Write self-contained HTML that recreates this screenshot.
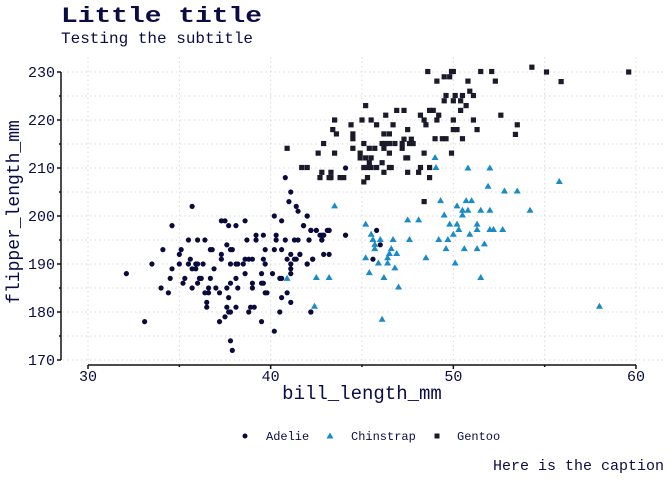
<!DOCTYPE html>
<html><head><meta charset="utf-8"><style>
body{margin:0;background:#fff;}
svg{display:block;font-family:"Liberation Mono",monospace;}
</style></head><body>
<svg id="chart" width="672" height="480" viewBox="0 0 672 480" xmlns="http://www.w3.org/2000/svg">
<text x="61" y="22" font-size="22" font-weight="bold" fill="#0b0b45" textLength="201" lengthAdjust="spacingAndGlyphs">Little title</text>
<text x="61" y="43" font-size="16" fill="#0b0b45">Testing the subtitle</text>
<g id="grid"></g>
<g id="axes"></g>
<g id="marks"></g>
<text x="362" y="399" font-size="19" text-anchor="middle" fill="#0b0b45">bill_length_mm</text>
<text transform="translate(19,212) rotate(-90)" font-size="18" text-anchor="middle" fill="#0b0b45">flipper_length_mm</text>
<g font-size="12" fill="#0b0b45">
<g><circle cx="245" cy="436" r="2.5" fill="#0a0a3c"/><text x="266" y="440">Adelie</text></g>
<g><polygon points="330,432.5 333.5,438.5 326.5,438.5" fill="#1a8bc7"/><text x="351" y="440">Chinstrap</text></g>
<g><rect x="434.5" y="433.5" width="5" height="5" fill="#1a1a2a"/><text x="457" y="440">Gentoo</text></g>
</g>
<text x="664" y="470" font-size="15" text-anchor="end" fill="#0b0b45">Here is the caption</text>
</svg>
<script>
const xTicks=[30,40,50,60];
const xMinor=[35,45,55];
const yTicks=[170,180,190,200,210,220,230];
const yMinor=[175,185,195,205,215,225];
const adelieX=[41.1,41.0,41.4,41.5,35.7,40.2,40.6,42.0,41.8,42.2,42.5,42.8,42.9,43.1,43.2,42.8,44.1,34.6,37.3,37.5,37.7,38.1,38.6,35.5,36.0,36.4,34.1,35.1,35.0,33.5,34.6,35.0,35.6,35.5,35.7,35.9,36.0,35.9,36.3,36.7,36.8,37.6,37.3,37.3,37.8,37.9,37.8,38.1,38.2,38.5,38.6,38.8,39.0,38.7,39.2,39.2,39.6,39.7,39.6,39.7,40.3,40.3,40.8,41.3,41.5,42.1,40.2,40.6,41.1,41.6,40.9,41.3,41.4,41.1,41.1,41.1,42.3,42.0,42.9,32.1,36.9,34.5,35.3,35.2,36.0,36.1,36.2,36.7,34.0,34.4,35.7,36.6,36.4,36.6,36.5,36.5,37.0,37.2,37.6,37.7,37.8,38.2,38.1,38.6,39.0,39.0,39.5,39.5,39.6,39.7,39.8,40.1,40.5,40.6,40.9,40.6,41.1,37.6,37.7,37.8,38.1,38.9,39.1,38.8,40.5,42.2,37.5,37.2,39.5,33.1,40.2,37.8,37.9,44.1,40.8,45.8,46.0,45.6,42.0,41.8,42.2,42.5,42.7,42.9,43.2,44.1,42.1,42.8,41.6,42.3,43.2,42.0,42.2];
const adelieY=[205,203,202,201,202,200,199,200,198,197,197,196,196,197,197,195,196,198,199,199,198,198,199,195,195,195,193,193,192,190,189,190,191,190,189,190,190,189,190,193,193,194,192,191,193,193,190,190,190,190,191,191,191,195,196,195,196,193,191,190,196,195,195,195,195,195,193,193,192,192,191,191,191,190,189,188,191,190,192,188,189,187,187,186,186,187,187,187,185,184,185,185,184,184,182,181,185,184,185,183,186,185,187,188,186,185,188,186,186,184,184,188,187,187,184,183,182,181,180,180,181,181,181,180,180,180,179,178,178,178,176,174,172,210,208,197,194,191,200,198,197,197,196,196,197,196,195,195,192,191,192,190,180];
const chinX=[49.05,50.8,52.0,51.9,52.8,53.5,55.8,43.5,49.3,50.2,50.7,51.0,50.5,50.8,51.5,52.0,54.2,50.5,49.5,47.5,48.1,45.2,49.8,50.2,50.3,51.3,51.3,52.0,52.2,52.7,50.0,50.9,45.5,45.6,45.7,46.0,46.7,47.6,49.2,49.7,45.7,46.6,49.6,50.6,51.3,51.7,46.5,46.9,46.4,45.2,48.5,45.9,46.4,50.1,46.8,45.4,42.5,43.2,46.2,51.5,47.0,42.4,58.0,46.1,40.9,49.0];
const chinY=[210.1,210,210,206.2,205.2,205.2,207.2,202.1,203.2,202.1,203.2,203.2,201.2,201.2,201.2,201.2,201.2,200.2,200.2,199.2,199.2,198.3,198.3,198.3,197.2,198.3,197.2,197.2,197.2,197.2,196.2,196.2,196.2,195.1,194.1,195.1,195.1,195.1,195.1,195.1,193.2,193.2,193.2,193.2,193.2,194.2,192.2,192.2,191.3,191.3,191.3,190.2,190.2,190.2,189.2,188.2,187.2,187.2,187.2,187.2,185.2,181.2,181.2,178.5,187,212.2];
const gentooX=[48.6,49.1,49.5,49.8,49.9,50.0,50.8,51.5,52.1,52.3,50.9,49.5,49.6,50.0,50.1,50.4,50.5,51.1,50.7,50.4,45.2,46.3,46.9,47.3,48.2,48.7,48.9,49.2,48.4,48.5,49.1,50.0,51.1,52.6,53.5,43.5,44.4,45.0,45.5,45.8,46.7,47.5,43.4,43.6,44.5,44.5,46.2,46.5,50.0,50.2,51.3,49.0,49.4,49.6,50.5,42.9,40.9,45.1,46.1,46.3,46.5,46.8,47.3,47.2,47.7,47.6,47.8,44.5,45.4,45.7,46.2,47.2,42.6,43.5,44.9,44.9,46.5,48.4,49.9,45.2,45.5,47.4,47.5,45.4,46.1,41.7,42.0,45.1,45.3,45.5,45.8,46.5,46.6,48.2,48.7,42.8,42.7,43.3,43.2,43.3,43.8,44.0,45.3,46.2,47.5,48.1,48.7,45.1,54.3,55.1,55.9,59.6,53.4,48.4];
const gentooY=[230.1,228.1,229,229,230.1,230.1,228.1,230.1,230.1,228.1,226,224,225.1,224,225.1,224,225.1,225.1,223,222,223,221,222,222,221,222,222,221,220,219,220,220,220,221,219,220,219,220,220,219,219,218,218,217.1,217.1,216.1,217.1,217.1,218,218,218,216.1,216.1,216.1,216.1,215.1,214.1,215.1,215.1,215.1,215.1,215.1,216,215.1,216,215.1,215.1,214.1,214.1,214.1,214.1,214.1,213.1,213.1,213.1,212.1,213.1,213.1,213.1,212.1,212.1,212.1,212.1,211.1,211.1,210.1,210.1,210.1,210.1,210.1,210.1,210.1,210.1,210.1,210.1,209.1,208,209.1,208,208,208,208,208,209.1,209.1,209.1,208,207.1,231,230,228,230,217,203];

const NS="http://www.w3.org/2000/svg";
const xs=v=>88+(v-30)*(548/30);
const ys=v=>360-(v-170)*4.8;
const grid=document.getElementById('grid'),axes=document.getElementById('axes'),marks=document.getElementById('marks');
function mk(tag,attrs,parent){const e=document.createElementNS(NS,tag);for(const k in attrs)e.setAttribute(k,attrs[k]);parent.appendChild(e);return e;}
xTicks.concat(xMinor).forEach(v=>{
  const l=mk('line',{x1:xs(v),x2:xs(v),y1:57,y2:362,stroke:'#d9d9d9','stroke-width':1,'stroke-dasharray':'1.5,3'},grid);
  
  
});
yTicks.concat(yMinor).forEach(v=>{
  const l=mk('line',{x1:63,x2:664,y1:ys(v),y2:ys(v),stroke:'#d9d9d9','stroke-width':1,'stroke-dasharray':'1.5,3'},grid);
  
  
});
let a=mk('line',{x1:61,x2:61,y1:ys(230),y2:ys(170),stroke:'#111','stroke-width':1.5},axes);


a=mk('line',{x1:xs(30),x2:xs(60),y1:365,y2:365,stroke:'#111','stroke-width':1.5},axes);


yTicks.forEach(v=>{
  const t=mk('line',{x1:57,x2:61,y1:ys(v),y2:ys(v),stroke:'#111','stroke-width':1.5},axes);
  
  
  const tx=mk('text',{x:55,y:ys(v)+5,'font-size':15,'text-anchor':'end',fill:'#0b0b45'},axes);
  tx.textContent=v;
  
  
});
yMinor.forEach(v=>{
  const t=mk('line',{x1:59,x2:61,y1:ys(v),y2:ys(v),stroke:'#111','stroke-width':1.5},axes);
  
  
});
xTicks.forEach(v=>{
  const t=mk('line',{x1:xs(v),x2:xs(v),y1:365,y2:369,stroke:'#111','stroke-width':1.5},axes);
  
  
  const tx=mk('text',{x:xs(v),y:381,'font-size':15,'text-anchor':'middle',fill:'#0b0b45'},axes);
  tx.textContent=v;
  
  
});
xMinor.forEach(v=>{
  const t=mk('line',{x1:xs(v),x2:xs(v),y1:365,y2:367,stroke:'#111','stroke-width':1.5},axes);
  
  
});
adelieX.forEach((v,i)=>{
  const c=mk('circle',{cx:xs(v),cy:ys(adelieY[i]),r:2.6,fill:'#0a0a3c'},marks);
  
  
});
chinX.forEach((v,i)=>{
  const x=xs(v),y=ys(chinY[i]);
  const p=mk('polygon',{points:`${x},${y-3.5} ${x+3.5},${y+2.5} ${x-3.5},${y+2.5}`,fill:'#1a8bc7'},marks);
  
  
});
gentooX.forEach((v,i)=>{
  const r=mk('rect',{x:xs(v)-2.6,y:ys(gentooY[i])-2.6,width:5.2,height:5.2,fill:'#1a1a2a'},marks);
  
  
});
</script>
</body></html>
